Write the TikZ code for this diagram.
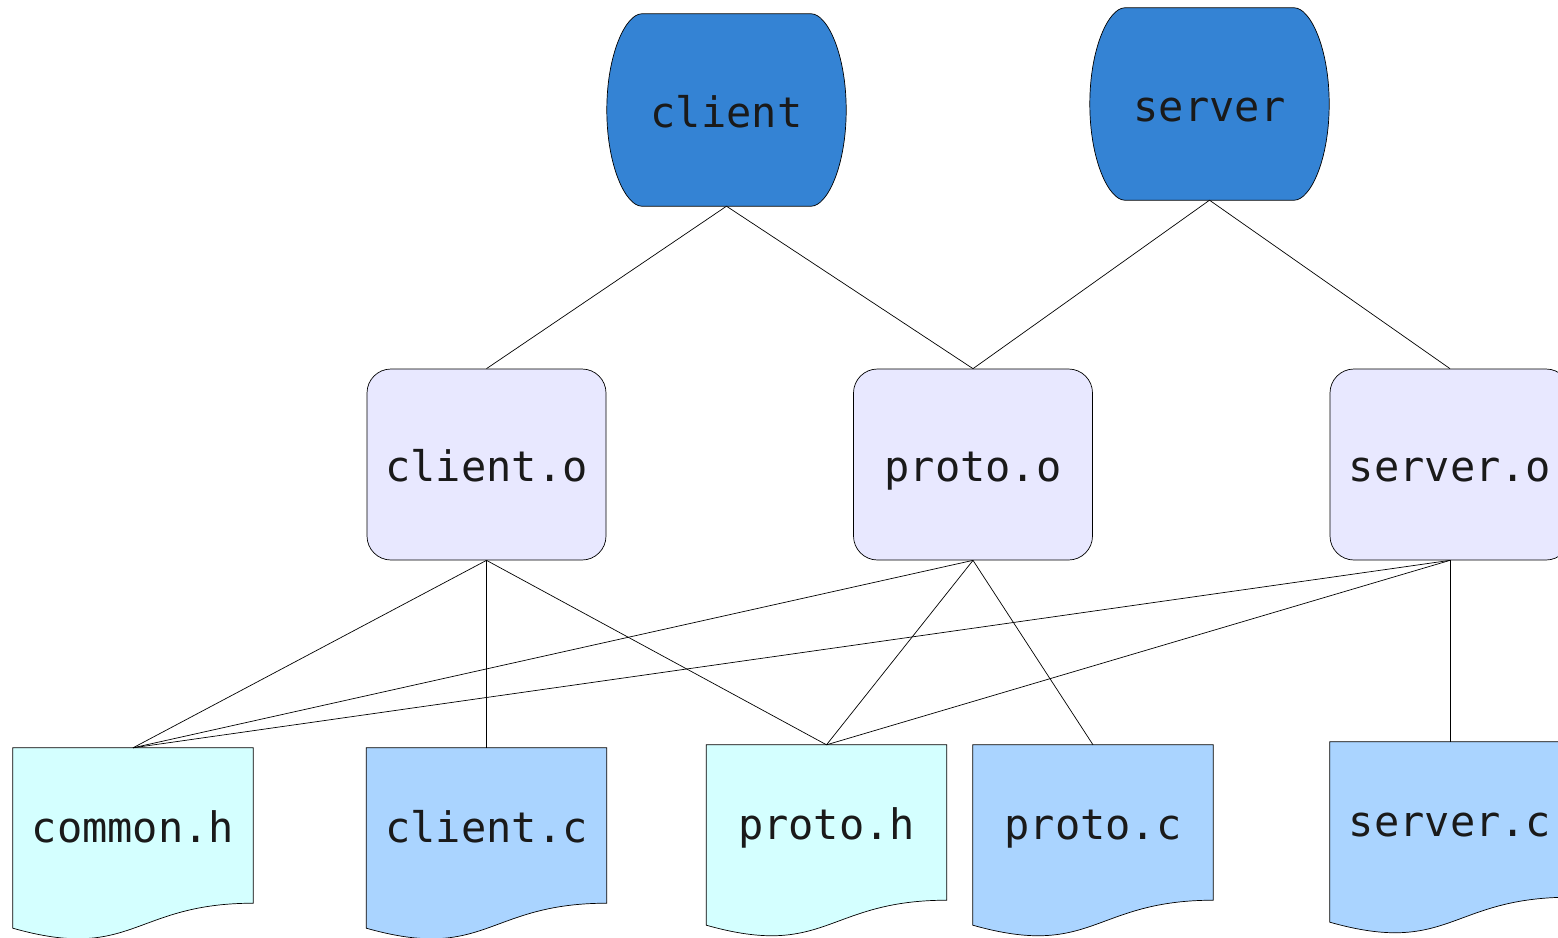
\documentclass[tikz,border=0pt]{standalone}
\usepackage{fontspec}
\setmonofont{DejaVu Sans Mono}
\usetikzlibrary{calc,backgrounds}
\definecolor{storefill}{HTML}{3483D4}
\definecolor{objfill}{HTML}{E8E8FF}
\definecolor{hfill}{HTML}{D4FFFF}
\definecolor{cfill}{HTML}{AAD4FF}
\definecolor{txt}{HTML}{1A1A1A}
\newcommand\storeshape[1]{%
  \filldraw[outline] ($(#1.north west)+(35,0)$) -- ($(#1.north east)+(-35,0)$)
    .. controls ($(#1.north east)+(-19,0)$) and ($(#1.east)+(0,-56)$) .. (#1.east)
    .. controls ($(#1.east)+(0,56)$) and ($(#1.south east)+(-19,0)$) .. ($(#1.south east)+(-35,0)$)
    -- ($(#1.south west)+(35,0)$)
    .. controls ($(#1.south west)+(19,0)$) and ($(#1.west)+(0,56)$) .. (#1.west)
    .. controls ($(#1.west)+(0,-56)$) and ($(#1.north west)+(19,0)$) .. cycle;}
\newcommand\docshape[2]{%
  \filldraw[outline,fill=#2] (#1.north west) -- (#1.north east) -- (#1.south east)
    .. controls (#1.south) and ($(#1.south)+(0,59)$) .. ($(#1.south west)+(0,25)$) -- cycle;}
\begin{document}
\begin{tikzpicture}[x=1pt,y=-1pt,
  outline/.style={draw=black,line width=0.7pt,fill=storefill},
  lbl/.style={font=\ttfamily\fontsize{42}{50}\selectfont,text=txt,text height=34pt,text depth=0pt,inner sep=0pt},
  store/.style={lbl,minimum width=239pt,minimum height=192pt},
  objbox/.style={lbl,draw=black,line width=0.7pt,fill=objfill,rounded corners=24pt,minimum width=239pt,minimum height=191pt},
  docbox/.style={lbl,minimum width=240pt,minimum height=155pt},
  link/.style={draw=black,line width=0.7pt}]
\useasboundingbox (0,0) rectangle (1558,937);
\clip (0,0) rectangle (1558,937);
% top level
\node[store] (client) at (726.5,110) {client};
\node[store] (server) at (1209.5,104) {server};
% objects
\node[objbox] (cliento) at (486.5,464.5) {client.o};
\node[objbox] (protoo) at (973,464.5) {proto.o};
\node[objbox,minimum width=240pt] (servero) at (1450,464.5) {server.o};
% sources
\node[docbox] (commonh) at (133,825.5) {common.h};
\node[docbox] (clientc) at (486.5,825.5) {client.c};
\node[docbox] (protoh) at (826.5,822.5) {proto.h};
\node[docbox] (protoc) at (1093,822.5) {proto.c};
\node[docbox] (serverc) at (1450,819.5) {server.c};
\begin{scope}[on background layer]
  \storeshape{client}
  \storeshape{server}
  \docshape{commonh}{hfill}
  \docshape{clientc}{cfill}
  \docshape{protoh}{hfill}
  \docshape{protoc}{cfill}
  \docshape{serverc}{cfill}
\end{scope}
% connectors
\draw[link] (client.south) -- (cliento.north);
\draw[link] (client.south) -- (protoo.north);
\draw[link] (server.south) -- (protoo.north);
\draw[link] (server.south) -- (servero.north);
\draw[link] (cliento.south) -- (commonh.north);
\draw[link] (cliento.south) -- (clientc.north);
\draw[link] (cliento.south) -- (protoh.north);
\draw[link] (protoo.south) -- (commonh.north);
\draw[link] (protoo.south) -- (protoh.north);
\draw[link] (protoo.south) -- (protoc.north);
\draw[link] (servero.south) -- (commonh.north);
\draw[link] (servero.south) -- (protoh.north);
\draw[link] (servero.south) -- (serverc.north);
\end{tikzpicture}
\end{document}
